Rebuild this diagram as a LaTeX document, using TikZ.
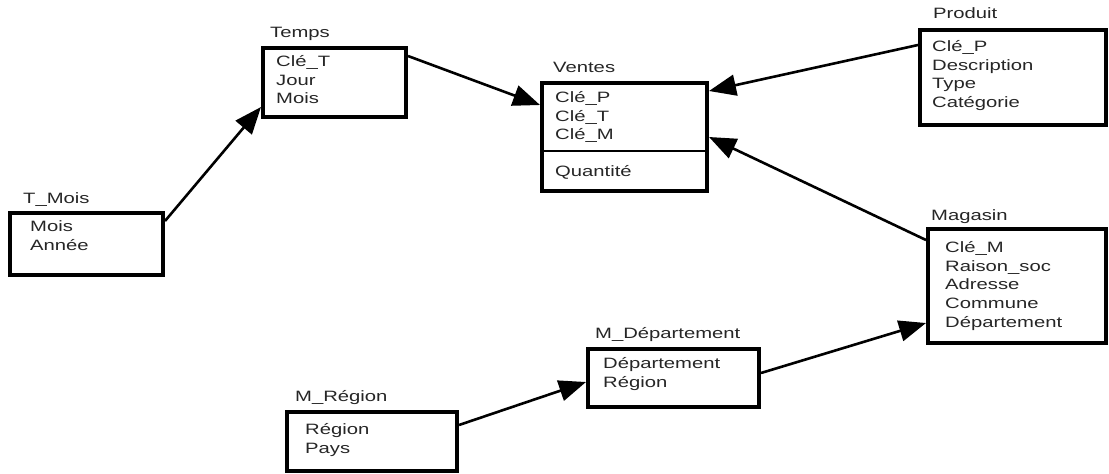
\documentclass[tikz,border=0pt]{standalone}
\usepackage{fontspec}
\setmainfont[FakeStretch=1.35]{Liberation Sans}
\usetikzlibrary{arrows.meta, positioning}

\begin{document}
\begin{tikzpicture}[
x=1pt, y=-1pt,
every node/.style={
font=\fontsize{15}{18.8}\selectfont,
text=black!85
},
box/.style={
rectangle,
draw=black,
line width=4pt,
inner sep=0pt
},
title/.style={
inner sep=0pt,
anchor=base west
},
fields/.style={
inner sep=0pt,
align=left
},
divider/.style={
line width=2pt
},
arrow/.style={
-{Triangle[length=27pt,width=21pt]},
line width=2.6pt
}
]

\useasboundingbox (0,0) rectangle (1109,474);

\node (tmois) [box, minimum width=153pt, minimum height=62pt] at (86.5,244) {};
\node (temps) [box, minimum width=143pt, minimum height=69pt] at (334.5,82.5) {};
\node (ventes) [box, minimum width=165pt, minimum height=108pt] at (624.5,137) {};
\node (produit) [box, minimum width=186pt, minimum height=95pt] at (1013,77.5) {};
\node (magasin) [box, minimum width=178pt, minimum height=114pt] at (1017,286) {};
\node (mdep) [box, minimum width=171pt, minimum height=58pt] at (673.5,378) {};
\node (mreg) [box, minimum width=170pt, minimum height=59pt] at (372,441.5) {};

\node (tmois-t) [above right=8pt and 15pt of tmois.north west, title] {T\_Mois};
\node (temps-t) [above right=9pt and 9pt of temps.north west, title] {Temps};
\node (ventes-t) [above right=9pt and 13pt of ventes.north west, title] {Ventes};
\node (produit-t) [above right=10pt and 15pt of produit.north west, title] {Produit};
\node (magasin-t) [above right=7pt and 5pt of magasin.north west, title] {Magasin};
\node (mdep-t) [above right=9pt and 9pt of mdep.north west, title] {M\_Département};
\node (mreg-t) [above right=9pt and 10pt of mreg.north west, title] {M\_Région};

\node (tmois-f) [fields, below right=9.5pt and 22pt of tmois.north west] {Mois\\Année};
\node (temps-f) [fields, below right=9pt and 15pt of temps.north west] {Clé\_T\\Jour\\Mois};
\node (ventes-f) [fields, below right=10pt and 15pt of ventes.north west] {Clé\_P\\Clé\_T\\Clé\_M};
\coordinate (vsep) at ([yshift=-70pt]ventes.north west);
\draw [divider] (vsep) -- (vsep -| ventes.east);
\node (ventes-m) [fields, below right=14pt and 15pt of vsep] {Quantité};
\node (produit-f) [fields, below right=12pt and 14pt of produit.north west] {Clé\_P\\Description\\Type\\Catégorie};
\node (magasin-f) [fields, below right=14pt and 19pt of magasin.north west] {Clé\_M\\Raison\_soc\\Adresse\\Commune\\Département};
\node (mdep-f) [fields, below right=10pt and 17pt of mdep.north west] {Département\\Région};
\node (mreg-f) [fields, below right=13pt and 20pt of mreg.north west] {Région\\Pays};

\draw [arrow] ([yshift=-10pt]tmois.north east) -- ([yshift=12pt]temps.south west);
\draw [arrow] ([yshift=-10pt]temps.north east) -- ([yshift=-24pt]ventes.north west);
\draw [arrow] ([yshift=-17pt]produit.north west) -- ([yshift=-10pt]ventes.north east);
\draw [arrow] ([yshift=-13pt]magasin.north west) -- (ventes.east);
\draw [arrow] ([yshift=5pt]mdep.east) -- ([yshift=22pt]magasin.south west);
\draw [arrow] ([yshift=-15pt]mreg.north east) -- ([yshift=-4pt]mdep.west);

\end{tikzpicture}
\end{document}
